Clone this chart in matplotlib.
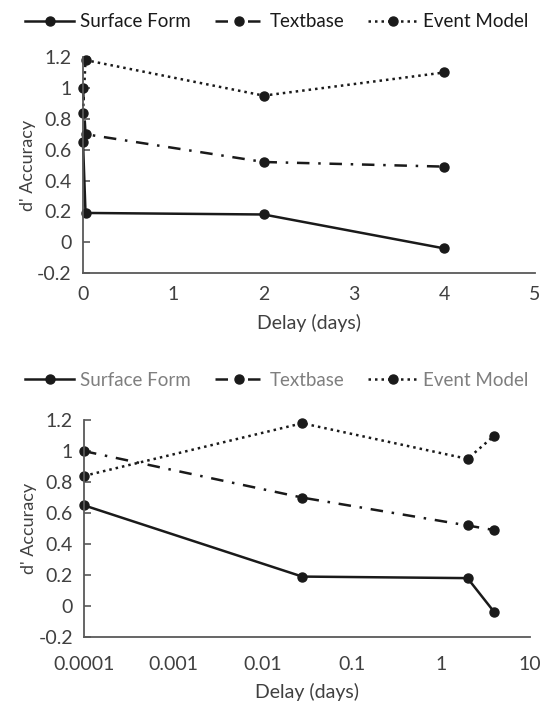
import numpy as np
import matplotlib
matplotlib.use('Agg')
import matplotlib.pyplot as plt
from matplotlib.ticker import FixedLocator, FixedFormatter

# Data
delay_days = [0.0001, 0.028, 2, 4]
surface_form = [0.65, 0.19, 0.18, -0.04]
textbase = [1.00, 0.70, 0.52, 0.49]
event_model = [0.84, 1.18, 0.95, 1.10]

series_names = ['Surface Form', 'Textbase', 'Event Model']
y_ticks = [-0.2, 0, 0.2, 0.4, 0.6, 0.8, 1, 1.2]
y_tick_labels = ['-0.2', '0', '0.2', '0.4', '0.6', '0.8', '1', '1.2']
lin_ticks = [0, 1, 2, 3, 4, 5]
log_ticks = [0.0001, 0.001, 0.01, 0.1, 1, 10]
log_tick_labels = ['0.0001', '0.001', '0.01', '0.1', '1', '10']

plt.rcParams['font.family'] = ['Lato', 'DejaVu Sans']
plt.rcParams['font.size'] = 13

LINE = '#1a1a1a'
SPINE = '#595959'
TEXT = '#404040'

styles = [
    dict(linestyle='-', linewidth=1.8),
    dict(linestyle=(0, (5, 3.5, 1, 3.5)), linewidth=1.8),
    dict(linestyle=(0, (1, 1.6)), linewidth=1.8),
]


def draw_panel(ax, xlabelpad):
    values = [surface_form, textbase, event_model]
    handles = []
    for name, vals, st in zip(series_names, values, styles):
        h, = ax.plot(delay_days, vals, color=LINE, marker='o', markersize=6.5,
                     clip_on=False, label=name, dash_capstyle='butt', **st)
        handles.append(h)
    ax.set_ylim(-0.2, 1.2)
    ax.yaxis.set_major_locator(FixedLocator(y_ticks))
    ax.yaxis.set_major_formatter(FixedFormatter(y_tick_labels))
    for s in ['top', 'right']:
        ax.spines[s].set_visible(False)
    for s in ['left', 'bottom']:
        ax.spines[s].set_color(SPINE)
        ax.spines[s].set_linewidth(1.3)
    ax.tick_params(axis='y', direction='in', length=5, width=1.2, color=SPINE,
                   labelcolor=TEXT, pad=8, labelsize=14)
    ax.tick_params(axis='x', length=0, labelcolor=TEXT, pad=9, labelsize=14)
    ax.tick_params(axis='x', which='minor', length=0)
    ax.set_ylabel("d' Accuracy", color=TEXT, fontsize=13, labelpad=1)
    ax.set_xlabel('Delay (days)', color=TEXT, fontsize=14, labelpad=xlabelpad)
    return handles


fig = plt.figure(figsize=(5.47, 7.04), dpi=100)
ax1 = fig.add_axes([0.1517, 0.612, 0.826, 0.307])
ax2 = fig.add_axes([0.1536, 0.0952, 0.815, 0.308])

h1 = draw_panel(ax1, 8)
ax1.set_xlim(0, 5)
ax1.xaxis.set_major_locator(FixedLocator(lin_ticks))

h2 = draw_panel(ax2, 7)
ax2.set_xscale('log')
ax2.set_xlim(0.0001, 10)
ax2.xaxis.set_major_locator(FixedLocator(log_ticks))
ax2.xaxis.set_major_formatter(FixedFormatter(log_tick_labels))
ax2.xaxis.set_minor_locator(FixedLocator([]))
ax2.tick_params(axis='x', pad=14)

leg_kw = dict(ncol=3, frameon=False, handlelength=2.6, handletextpad=0.3,
              columnspacing=1.3, fontsize=13.5, borderaxespad=0)
leg1 = fig.legend(handles=h1, loc='center', bbox_to_anchor=(0.506, 0.969), **leg_kw)
for t in leg1.get_texts():
    t.set_color('#1a1a1a')
leg2 = fig.legend(handles=h2, loc='center', bbox_to_anchor=(0.506, 0.460), **leg_kw)
for t in leg2.get_texts():
    t.set_color('#7f7f7f')

fig.savefig('out.png', dpi=100)
